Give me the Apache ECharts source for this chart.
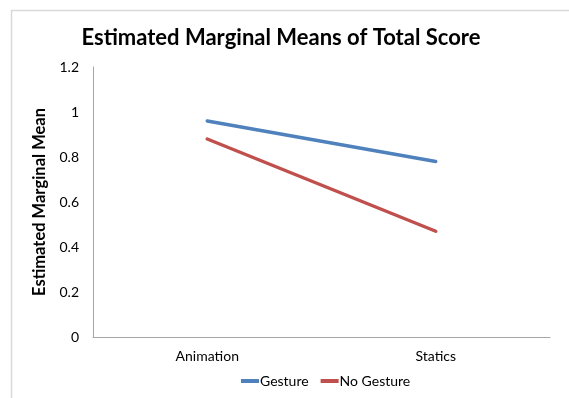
<!DOCTYPE html>
<html>
<head>
<meta charset="utf-8">
<script src="https://cdn.jsdelivr.net/npm/echarts@6/dist/echarts.min.js"></script>
<style>
  html, body { margin: 0; padding: 0; background: #fff; }
  #chart { width: 569px; height: 398px; }
</style>
</head>
<body>
<div id="chart"></div>
<script>
// Estimated marginal means of total score by presentation type
const categories = ['Animation', 'Statics'];
const gesture = [0.96, 0.78];
const noGesture = [0.88, 0.47];
const seriesNames = ['Gesture', 'No Gesture'];

const FONT = 'Lato, "Open Sans", sans-serif';

const chart = echarts.init(document.getElementById('chart'), null, { renderer: 'canvas' });

chart.setOption({
  backgroundColor: '#ffffff',
  animation: false,
  graphic: [{
    type: 'rect',
    shape: { x: 11.5, y: 10.5, width: 700, height: 500 },
    style: { fill: 'none', stroke: '#d9d9d9', lineWidth: 1.5 },
    silent: true
  }],
  title: {
    text: 'Estimated Marginal Means of Total Score',
    left: 276,
    textAlign: 'center',
    top: 22,
    textStyle: { fontFamily: FONT, fontSize: 22, fontWeight: 'bold', color: '#000' }
  },
  legend: {
    data: seriesNames,
    bottom: 5,
    left: 236,
    itemWidth: 18,
    itemHeight: 4,
    itemGap: 12,
    icon: 'rect',
    textStyle: { fontFamily: FONT, fontSize: 14, color: '#000', padding: [0, 0, 0, -4] }
  },
  grid: { left: 93, right: 19, top: 67, bottom: 61 },
  xAxis: {
    type: 'category',
    data: categories,
    boundaryGap: true,
    axisLine: { lineStyle: { color: '#a6a6a6', width: 1 } },
    axisTick: { show: false },
    axisLabel: { fontFamily: FONT, fontSize: 14, color: '#000', margin: 12 },
    splitLine: { show: false }
  },
  yAxis: {
    type: 'value',
    min: 0,
    max: 1.2,
    interval: 0.2,
    name: 'Estimated Marginal Mean',
    nameLocation: 'middle',
    nameGap: 45,
    nameTextStyle: { fontFamily: FONT, fontSize: 16.5, fontWeight: 'bold', color: '#000' },
    axisLine: { show: true, lineStyle: { color: '#a6a6a6', width: 1 } },
    axisTick: { show: false },
    splitLine: { show: false },
    axisLabel: {
      fontFamily: FONT, fontSize: 14, color: '#000', margin: 14,
      formatter: v => String(Math.round(v * 10) / 10)
    }
  },
  series: [
    {
      name: seriesNames[0], type: 'line', data: gesture,
      symbol: 'none', color: '#4f81bd',
      lineStyle: { width: 3.5, color: '#4f81bd', cap: 'round' }
    },
    {
      name: seriesNames[1], type: 'line', data: noGesture,
      symbol: 'none', color: '#c0504d',
      lineStyle: { width: 3.5, color: '#c0504d', cap: 'round' }
    }
  ]
});
</script>
</body>
</html>
